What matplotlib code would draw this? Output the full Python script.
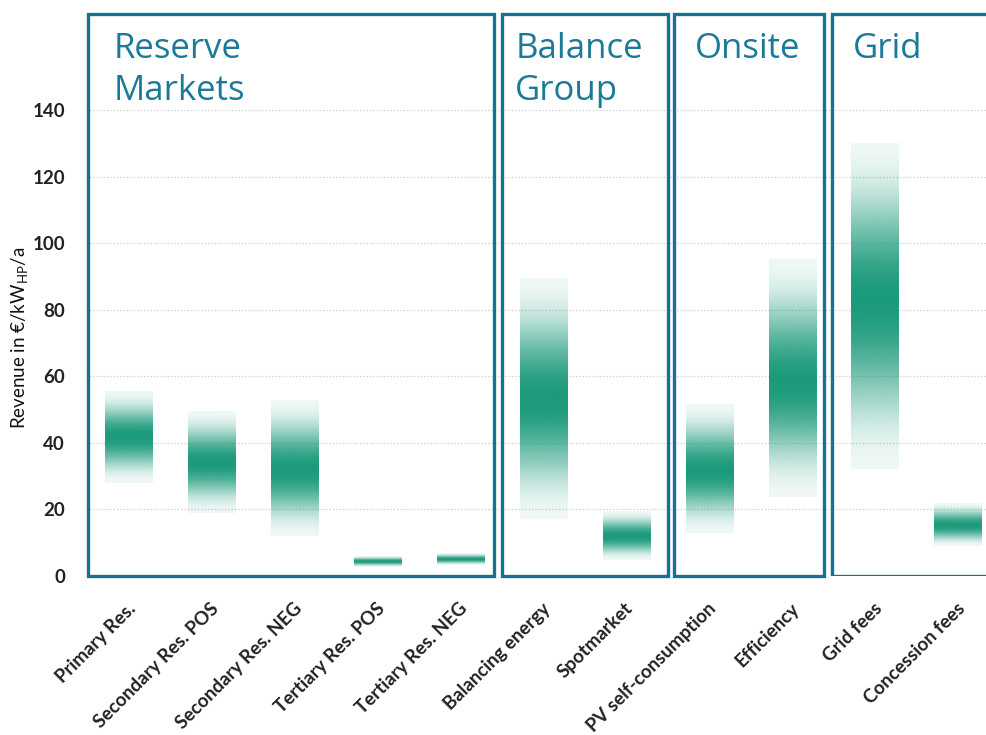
import numpy as np
import matplotlib
matplotlib.use("Agg")
import matplotlib.pyplot as plt
import matplotlib.transforms as mtransforms
from matplotlib.colors import to_rgb
from matplotlib.patches import Rectangle

categories = ["Primary Res.", "Secondary Res. POS", "Secondary Res. NEG",
              "Tertiary Res. POS", "Tertiary Res. NEG", "Balancing energy",
              "Spotmarket", "PV self-consumption", "Efficiency", "Grid fees",
              "Concession fees"]
low = [28.0, 19.0, 12.1, 2.8, 3.3, 17.0, 4.8, 12.8, 23.7, 32.2, 9.1]
high = [55.4, 49.4, 52.7, 6.1, 6.8, 89.2, 19.3, 51.4, 95.0, 130.2, 22.0]
peak = [41.8, 34.0, 31.9, 4.5, 5.0, 53.0, 11.8, 31.4, 58.0, 83.0, 15.3]

groups = ["Reserve\nMarkets", "Balance\nGroup", "Onsite", "Grid"]
group_left = [-0.495, 4.50, 6.57, 8.48]
group_right = [4.40, 6.50, 8.38, 10.8]
title_x = [-0.19, 4.66, 6.82, 8.73]

GREEN = "#1b9a7b"
BOX = "#147393"
TITLE = "#1a7a97"


def gradient(lo, hi, pk, n=200):
    y = np.linspace(lo, hi, n)
    d = np.where(y < pk, (pk - y) / (pk - lo), (y - pk) / (hi - pk))
    alpha = 0.07 + 0.93 * (0.5 + 0.5 * np.cos(np.pi * np.clip(d, 0, 1)))
    img = np.zeros((n, 1, 4))
    img[:, 0, :3] = to_rgb(GREEN)
    img[:, 0, 3] = alpha
    return img


def main():
    fig = plt.figure(figsize=(9.87, 7.35), dpi=100)
    ax = fig.add_axes([86 / 987, 1 - 576 / 735, 1 - 86 / 987, (576 - 10) / 735])
    ax.set_xlim(-0.52, 10.35)
    ax.set_ylim(0, 170.2)

    for v in range(20, 160, 20):
        ax.axhline(v, color="#d2d2d2", lw=0.9, ls=(0, (1.2, 1.5)), zorder=0)

    w = 0.57
    for i in range(len(categories)):
        ax.imshow(gradient(low[i], high[i], peak[i]), origin="lower",
                  extent=(i - w / 2, i + w / 2, low[i], high[i]),
                  aspect="auto", interpolation="bilinear", zorder=2)

    for k, g in enumerate(groups):
        r = Rectangle((group_left[k], 0), group_right[k] - group_left[k], 169,
                      fill=False, ec=BOX, lw=2.4, zorder=3,
                      clip_on=(k == len(groups) - 1))
        ax.add_patch(r)
        ax.text(title_x[k], 163.5, g, color=TITLE, fontsize=25,
                family="Open Sans", va="top", ha="left", linespacing=1.3)

    for s in ax.spines.values():
        s.set_visible(False)

    ax.set_yticks(range(0, 160, 20))
    ax.tick_params(axis="y", length=0, pad=15)
    for t in ax.get_yticklabels():
        t.set_fontweight("bold")
        t.set_fontsize(13.5)
        t.set_family("Lato")
        t.set_color("#222222")

    ax.set_xticks(range(len(categories)))
    ax.set_xticklabels(categories, rotation=45, ha="right", va="center",
                       rotation_mode="anchor", fontsize=13.5, fontweight="bold",
                       family="Lato", color="#222222")
    ax.tick_params(axis="x", length=0, pad=0)
    off = mtransforms.ScaledTranslation(4 / 100, -30 / 100, fig.dpi_scale_trans)
    for t in ax.get_xticklabels():
        t.set_transform(t.get_transform() + off)

    ax.set_ylabel("Revenue in €/kW$_\\mathregular{HP}$/a", fontsize=13.5,
                  family="Lato", color="#111111")
    ax.yaxis.set_label_coords(-0.061, 0.42)

    fig.savefig("out.png", dpi=100)


if __name__ == "__main__":
    main()
